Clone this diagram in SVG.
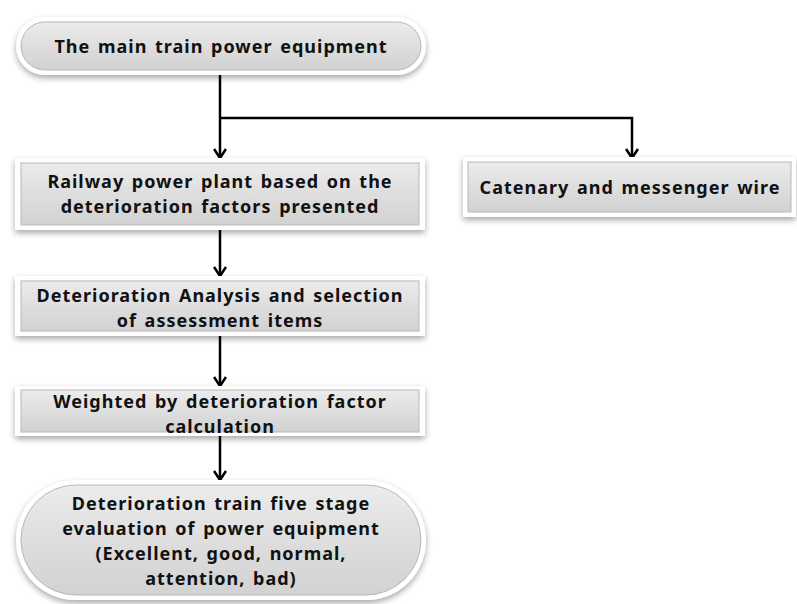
<svg xmlns="http://www.w3.org/2000/svg" width="797" height="604" viewBox="0 0 797 604">
<defs>
<linearGradient id="g" x1="0" y1="0" x2="0" y2="1">
<stop offset="0" stop-color="#ececec"/>
<stop offset="0.5" stop-color="#dedede"/>
<stop offset="1" stop-color="#d2d2d2"/>
</linearGradient>
<filter id="sh" x="-10%" y="-20%" width="120%" height="150%">
<feGaussianBlur in="SourceAlpha" stdDeviation="3"/>
<feOffset dx="0" dy="3" result="b"/>
<feComponentTransfer><feFuncA type="linear" slope="0.35"/></feComponentTransfer>
<feMerge><feMergeNode/><feMergeNode in="SourceGraphic"/></feMerge>
</filter>
<marker id="ah" viewBox="0 0 12 14" refX="11" refY="7" markerWidth="12" markerHeight="14" markerUnits="userSpaceOnUse" orient="auto">
<path d="M2,1 L11,7 L2,13" fill="none" stroke="#000" stroke-width="2.6"/>
</marker>
</defs>
<style>
.frame{fill:#ffffff;filter:url(#sh)}
.box{fill:url(#g);stroke:#b8b8b8;stroke-width:1}
.t{font-family:"Noto Sans","DejaVu Sans",sans-serif;font-weight:bold;font-size:18px;letter-spacing:1px;word-spacing:2px;fill:#111;text-anchor:middle}
.c{fill:none;stroke:#000;stroke-width:2.5}
</style>
<g id="connectors">
<path class="c" d="M220,73 V158" marker-end="url(#ah)"/>
<path class="c" d="M220,118 H632 V158" marker-end="url(#ah)"/>
<path class="c" d="M220,230 V276" marker-end="url(#ah)"/>
<path class="c" d="M220,334 V386" marker-end="url(#ah)"/>
<path class="c" d="M220,436 V480" marker-end="url(#ah)"/>
</g>
<g id="n1">
<rect class="frame" x="16" y="17" width="410" height="58" rx="29"/>
<rect class="box" x="21" y="22" width="400" height="48" rx="24"/>
<text class="t" x="221" y="53">The main train power equipment</text>
</g>
<g id="n2">
<rect class="frame" x="15" y="158" width="410" height="72"/>
<rect class="box" x="21" y="163" width="398" height="62"/>
<text class="t" x="220" y="188">Railway power plant based on the</text>
<text class="t" x="220" y="213">deterioration factors presented</text>
</g>
<g id="n3">
<rect class="frame" x="463" y="157" width="333" height="60"/>
<rect class="box" x="468" y="162" width="323" height="50"/>
<text class="t" x="630" y="194">Catenary and messenger wire</text>
</g>
<g id="n4">
<rect class="frame" x="15" y="276" width="410" height="60"/>
<rect class="box" x="21" y="281" width="398" height="50"/>
<text class="t" x="220" y="302">Deterioration Analysis and selection</text>
<text class="t" x="220" y="327">of assessment items</text>
</g>
<g id="n5">
<rect class="frame" x="15" y="386" width="410" height="50"/>
<rect class="box" x="21" y="390" width="398" height="42"/>
<text class="t" x="220" y="408">Weighted by deterioration factor</text>
<text class="t" x="220" y="433">calculation</text>
</g>
<g id="n6">
<rect class="frame" x="16" y="480" width="410" height="120" rx="60"/>
<rect class="box" x="21" y="485" width="400" height="110" rx="55"/>
<text class="t" x="221" y="510">Deterioration train five stage</text>
<text class="t" x="221" y="535">evaluation of power equipment</text>
<text class="t" x="221" y="560">(Excellent, good, normal,</text>
<text class="t" x="221" y="585">attention, bad)</text>
</g>
</svg>
